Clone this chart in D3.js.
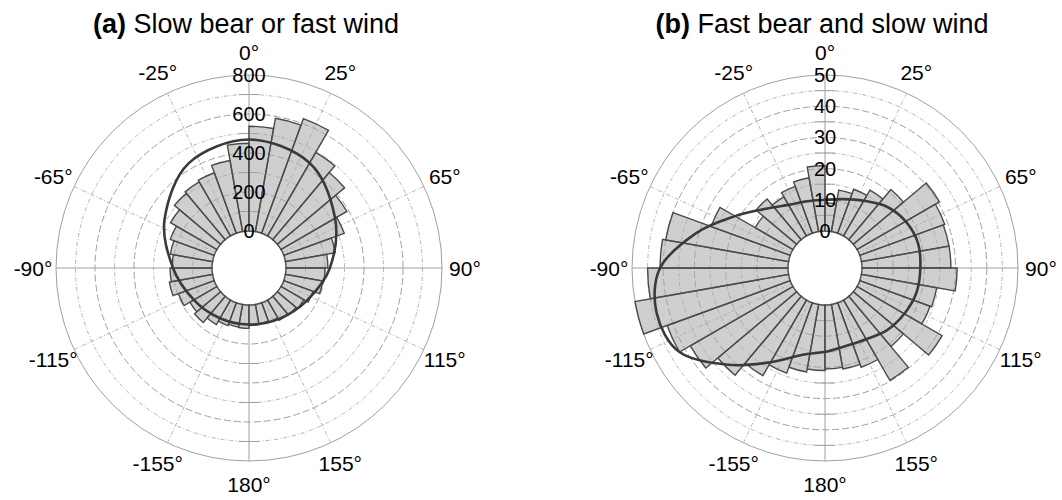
<!DOCTYPE html>
<html lang="en">
<head>
<meta charset="UTF-8">
<title>Polar histograms</title>
<script src="https://cdnjs.cloudflare.com/ajax/libs/d3/7.8.5/d3.min.js"></script>
<style>
    body { margin: 0; background: #fff; }
    svg text { font-family: "Liberation Sans", Arial, sans-serif; fill: #000; }
</style>
</head>
<body>
<svg id="chart"></svg>
<script>
// bin centres (deg, clockwise from north), 10 degree bins
const binCenters = [-175,-165,-155,-145,-135,-125,-115,-105,-95,-85,-75,-65,-55,-45,-35,-25,-15,-5,
                    5,15,25,35,45,55,65,75,85,95,105,115,125,135,145,155,165,175];

// (a) slow bear or fast wind - counts
const barsA = [120,118,125,145,175,160,195,225,215,205,220,240,275,310,320,330,370,450,
               537,590,625,495,450,390,330,260,215,200,195,160,135,125,120,105,100,105];
// (b) fast bear and slow wind - counts
const barsB = [21,22,24,28,33,38,42,50,45,41,40,27,14,17,14.5,16,17.5,21,
               9,13.5,15,17,21,30.5,29,28.5,28.5,30.5,24.5,24,31.5,21,29.7,22,21,20.5];

// fitted curves
const curveAnglesA = [0,30,60,90,120,150,180,-150,-120,-90,-60,-30];
const curveA = [469,432,320,225,150,113,100,108,137,200,310,430];
const curveAnglesB = [0,15,30,45,60,75,90,105,120,135,150,165,180,-165,-150,-135,-120,-105,-90,-75,-60,-45,-30,-15];
const curveB = [10,11,13,16,18,19,18.7,18.5,17.5,16.3,14.5,14,15,17,23,32,42,44,41,31,21.4,15,11.5,10.3];

const angleTicks = [0,25,65,90,115,155,180,-155,-115,-90,-65,-25];
const radialTicksA = [0,200,400,600,800];
const radialTicksB = [0,10,20,30,40,50];

const width = 1062, height = 500;
const R0 = 37, R = 193;
const rad = d => d * Math.PI / 180;

const svg = d3.select("#chart").attr("width", width).attr("height", height);

function drawPanel(cx, cy, label, title, bars, cAngles, cValues, majors, minorStep) {
    const maxV = majors[majors.length - 1];
    const r = d3.scaleLinear().domain([0, maxV]).range([R0, R]);
    const g = svg.append("g").attr("transform", `translate(${cx},${cy})`);

    // grid circles
    const levels = d3.range(minorStep, maxV + minorStep / 2, minorStep);
    g.selectAll("circle.grid").data(levels).enter().append("circle")
        .attr("r", d => r(d))
        .attr("fill", "none")
        .attr("stroke", d => majors.includes(d) ? "#a0a0a0" : "#b4b4b4")
        .attr("stroke-width", 1)
        .attr("stroke-dasharray", d => d === maxV ? null : (majors.includes(d) ? "7,3" : "4,2,1,2"));

    // spokes
    g.selectAll("line.spoke").data(angleTicks).enter().append("line")
        .attr("x1", 0).attr("y1", 0)
        .attr("x2", d => R * Math.sin(rad(d)))
        .attr("y2", d => -R * Math.cos(rad(d)))
        .attr("stroke", d => Math.abs(d) % 90 === 0 ? "#a0a0a0" : "#b4b4b4")
        .attr("stroke-width", 1)
        .attr("stroke-dasharray", d => Math.abs(d) % 90 === 0 ? null : "4,2,1,2");

    // minor ticks along the vertical axis
    const tickLevels = d3.range(0, maxV + minorStep / 2, minorStep).filter(v => !majors.includes(v));
    [1, -1].forEach(s => {
        g.selectAll(null).data(tickLevels).enter().append("line")
            .attr("x1", -10).attr("x2", 10)
            .attr("y1", d => -s * r(d)).attr("y2", d => -s * r(d))
            .attr("stroke", "#a0a0a0").attr("stroke-width", 1);
    });

    // hole
    g.append("circle").attr("r", R0).attr("fill", "#fff");

    // bars
    const arc = d3.arc()
        .innerRadius(R0)
        .outerRadius(d => r(d.v))
        .startAngle(d => rad(d.a - 5))
        .endAngle(d => rad(d.a + 5));
    g.selectAll("path.bar").data(binCenters.map((a, i) => ({a: a, v: bars[i]})))
        .enter().append("path")
        .attr("d", arc)
        .attr("fill", "#a8a8a8")
        .attr("fill-opacity", 0.55)
        .attr("stroke", "#4a4a4a")
        .attr("stroke-width", 1.4);

    // fitted curve
    const pts = cAngles.map((a, i) => ({a: a, v: cValues[i]}));
    const line = d3.lineRadial()
        .angle(d => rad(d.a))
        .radius(d => r(d.v))
        .curve(d3.curveCardinalClosed);
    g.append("path")
        .attr("d", line(pts))
        .attr("fill", "none")
        .attr("stroke", "#3a3a3a")
        .attr("stroke-width", 2.6);

    // radial labels
    g.selectAll("text.rl").data(majors).enter().append("text")
        .attr("x", 0).attr("y", d => -r(d))
        .attr("text-anchor", "middle")
        .attr("dominant-baseline", "central")
        .style("font-size", "20px")
        .text(d => d);

    // angle labels
    const rl = R + 23;
    g.selectAll("text.al").data(angleTicks).enter().append("text")
        .attr("x", d => rl * Math.sin(rad(d)))
        .attr("y", d => -rl * Math.cos(rad(d)))
        .attr("text-anchor", "middle")
        .attr("dominant-baseline", "central")
        .style("font-size", "21px")
        .text(d => d + "\u00b0");

    // title
    const t = svg.append("text")
        .attr("x", cx - 3).attr("y", 33)
        .attr("text-anchor", "middle")
        .style("font-size", "27px");
    t.append("tspan").style("font-weight", "bold").text(label);
    t.append("tspan").text(" " + title);
}

drawPanel(249, 268, "(a)", "Slow bear or fast wind", barsA, curveAnglesA, curveA, radialTicksA, 100);
drawPanel(825, 268, "(b)", "Fast bear and slow wind", barsB, curveAnglesB, curveB, radialTicksB, 5);
</script>
</body>
</html>
